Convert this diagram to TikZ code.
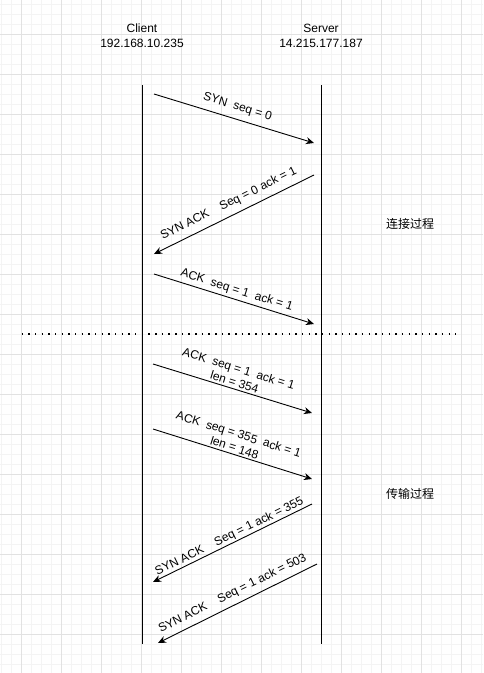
\documentclass[tikz,border=0pt]{standalone}
\usepackage{fontspec}
\setmainfont{Liberation Sans}
\newfontfamily\cjk{Noto Sans CJK SC}
\usetikzlibrary{arrows.meta}
\definecolor{gridminor}{HTML}{F4F4F4}
\definecolor{gridmajor}{HTML}{E2E2E2}
\tikzset{
  head/.style={font=\fontsize{12}{15}\selectfont, align=center, inner sep=0pt},
  phase/.style={font=\cjk\fontsize{12}{14}\selectfont, inner sep=0pt},
  life/.style={line width=1pt, black},
  msg/.style={-{Stealth[length=8pt,width=7pt,inset=2.5pt]}, line width=0.9pt},
  lbl/.style={font=\fontsize{12}{14}\selectfont, sloped, align=center, inner sep=2pt},
}
\begin{document}
\begin{tikzpicture}[x=1pt,y=-1pt]
    \useasboundingbox (0,0) rectangle (483,673);
    \fill[white] (0,0) rectangle (483,673);
    %grid
    \foreach \x in {1,11,...,481} \draw[gridminor,line width=1pt] (\x,0) -- (\x,673);
    \foreach \y in {4,14,...,664} \draw[gridminor,line width=1pt] (0,\y) -- (483,\y);
    \foreach \x in {21,61,...,461} \draw[gridmajor,line width=1pt] (\x,0) -- (\x,673);
    \foreach \y in {34,74,...,634} \draw[gridmajor,line width=1pt] (0,\y) -- (483,\y);

    \node[head] (client) at (142,35.5) {Client\\192.168.10.235};
    \node[head] (server) at (321,35.5) {Server\\14.215.177.187};
    \coordinate (c0) at (142,85); \coordinate (c1) at (142,644);
    \coordinate (s0) at (321,85); \coordinate (s1) at (321,644);
    \draw[life] (c0) -- (c1);
    \draw[life] (s0) -- (s1);

    %handshake
    \coordinate (a1) at (154,94);  \coordinate (b1) at (314,143);
    \coordinate (a2) at (314,175); \coordinate (b2) at (154,254);
    \coordinate (a3) at (154,274); \coordinate (b3) at (314,324);
    \draw[msg] (a1) -- node[lbl,above=4pt] {SYN\ \ seq = 0} (b1);
    \draw[msg] (a2) -- node[lbl,above=4pt] {SYN ACK\hspace{1.1em}Seq = 0 ack = 1} (b2);
    \draw[msg] (a3) -- node[lbl,above=1pt] {ACK\ \ seq = 1\ \ ack = 1} (b3);

    \coordinate (d0) at (21.7,334); \coordinate (d1) at (456,334);
    \draw[line width=1.4pt, dash pattern=on 1.4pt off 5.27pt] (d0) -- (d1);

    %transfer
    \coordinate (a4) at (153,364); \coordinate (b4) at (312,413);
    \coordinate (a5) at (153,429); \coordinate (b5) at (312,479);
    \coordinate (a6) at (312,504); \coordinate (b6) at (153,582);
    \coordinate (a7) at (317,564); \coordinate (b7) at (158,643);
    \draw[msg] (a4) -- node[lbl,above=0pt] {ACK\ \ seq = 1\ \ ack = 1\\len = 354} (b4);
    \draw[msg] (a5) -- node[lbl,above=0pt] {ACK\ \ seq = 355\ \ ack = 1\\len = 148} (b5);
    \draw[msg] (a6) -- node[lbl,above=-1pt] {SYN ACK\hspace{1.1em}Seq = 1 ack = 355} (b6);
    \draw[msg] (a7) -- node[lbl,above=3pt] {SYN ACK\hspace{1.1em}Seq = 1 ack = 503} (b7);

    \node[phase] (connect) at (410,224) {连接过程};
    \node[phase] (transfer) at (410,494) {传输过程};
\end{tikzpicture}
\end{document}
